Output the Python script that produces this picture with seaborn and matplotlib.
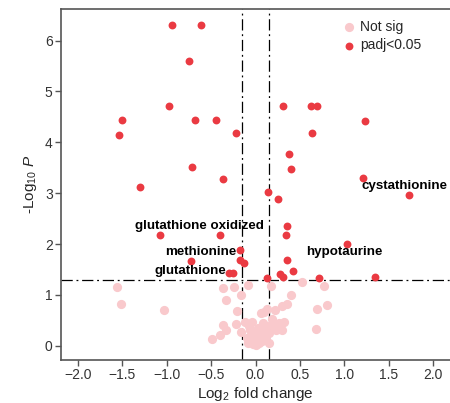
import numpy as np
import pandas as pd
import matplotlib
matplotlib.use("Agg")
import matplotlib.pyplot as plt
import seaborn as sns

# Significant metabolites (padj < 0.05): log2 fold change and -log10 P
sig_lfc = [-0.94, -0.61, -0.75, -0.97, -1.50, -1.54, -0.68, -0.45, -0.72, -1.30,
           -0.37, -0.22, 0.31, 0.63, 0.69, 1.23, 0.64, 0.38, 0.40, 1.21,
           0.14, 1.73, 0.25, 0.35, 0.34, 1.03, 0.36, 0.42, 0.28, 0.31,
           0.13, 0.72, 1.34, -0.18, -0.18, -0.135, -0.30, -0.25, -1.07, -0.40,
           -0.73]
sig_p = [6.31, 6.31, 5.60, 4.72, 4.43, 4.14, 4.43, 4.43, 3.51, 3.13,
         3.27, 4.19, 4.72, 4.72, 4.72, 4.42, 4.19, 3.77, 3.47, 3.30,
         3.02, 2.96, 2.88, 2.36, 2.17, 2.00, 1.68, 1.47, 1.42, 1.36,
         1.33, 1.33, 1.35, 1.88, 1.68, 1.63, 1.43, 1.43, 2.17, 2.17,
         1.67]

# Non-significant metabolites
ns_lfc = [-1.56, -1.51, -1.03, -0.49, -0.40, -0.37, -0.37, -0.33, -0.24, -0.08,
          -0.16, -0.21, 0.06, -0.33, -0.22, -0.12, -0.04, -0.16, -0.05, 0.01,
          0.045, -0.09, 0.52, 0.40, 0.36, 0.30, 0.22, 0.10, 0.19, 0.08,
          0.32, 0.27, 0.30, 0.23, 0.10, 0.69, 0.81, 0.68, 0.06, 0.04,
          0.77, 0.18, 0.13, -0.02, 0.02, 0.00, -0.06, 0.08, 0.12, -0.10,
          0.03, 0.15, 0.00, 0.07, -0.03, 0.12, -0.07, 0.15, 0.18]
ns_p = [1.16, 0.83, 0.70, 0.14, 0.22, 0.41, 1.14, 0.90, 1.16, 1.19,
        0.99, 0.68, 0.64, 0.31, 0.42, 0.47, 0.47, 0.27, 0.18, 0.08,
        0.21, 0.05, 1.25, 0.99, 0.83, 0.79, 0.71, 0.66, 0.53, 0.45,
        0.47, 0.44, 0.31, 0.31, 0.31, 0.73, 0.80, 0.33, 0.18, 0.05,
        1.18, 1.18, 0.73, 0.12, 0.15, 0.25, 0.30, 0.22, 0.12, 0.15,
        0.35, 0.25, 0.02, 0.10, 0.03, 0.38, 0.38, 0.05, 0.40]

# Labelled metabolites: name and label anchor (log2FC, -log10 P)
label_names = ["glutathione oxidized", "methionine", "glutathione",
               "cystathionine", "hypotaurine"]
label_x = [-0.635, -0.62, -0.73, 1.68, 0.995]
label_y = [2.36, 1.84, 1.47, 3.14, 1.84]

fc_cut = 0.15
p_cut = -np.log10(0.05)

sns.set_theme(style="white")
plt.rcParams["font.family"] = ["Liberation Sans", "DejaVu Sans"]
plt.rcParams["mathtext.fontset"] = "custom"
plt.rcParams["mathtext.rm"] = "Liberation Sans"
plt.rcParams["mathtext.it"] = "Liberation Sans:italic"

df = pd.concat([
    pd.DataFrame({"lfc": ns_lfc, "p": ns_p, "group": "Not sig"}),
    pd.DataFrame({"lfc": sig_lfc, "p": sig_p, "group": "padj<0.05"}),
], ignore_index=True)

fig = plt.figure(figsize=(4.5, 4.03), dpi=100)
ax = fig.add_axes([61 / 450, 43 / 403, 389 / 450, 351 / 403])

sns.scatterplot(data=df[df.group == "Not sig"], x="lfc", y="p", ax=ax,
                color="#F9C9CC", s=44, linewidth=0, label="Not sig", zorder=2)
sns.scatterplot(data=df[df.group == "padj<0.05"], x="lfc", y="p", ax=ax,
                color="#EA3A42", s=32, linewidth=0, label="padj<0.05", zorder=3)

dash = (0, (9, 3, 1.5, 3))
ax.axhline(p_cut, color="black", lw=0.9, ls=dash, zorder=1)
ax.axvline(-fc_cut, color="black", lw=0.9, ls=dash, zorder=1)
ax.axvline(fc_cut, color="black", lw=0.9, ls=dash, zorder=1)

for name, tx, ty in zip(label_names, label_x, label_y):
    ax.text(tx, ty, name, ha="center", va="center", fontsize=9.6,
            fontweight="bold", color="black", zorder=4)

ax.set_xlim(-2.19, 2.19)
ax.set_ylim(-0.28, 6.62)
ax.set_xticks(np.arange(-2.0, 2.01, 0.5))
ax.set_xticklabels([f"{v:.1f}".replace("-", "\u2212") for v in np.arange(-2.0, 2.01, 0.5)])
ax.set_yticks(range(0, 7))

ax.set_xlabel(r"Log$_2$ fold change", fontsize=11, labelpad=2)
ax.set_ylabel(r"-Log$_{10}$ $\it{P}$", fontsize=11, labelpad=4)

for side in ["left", "bottom", "top"]:
    ax.spines[side].set_color("#555555")
    ax.spines[side].set_linewidth(1.2)
ax.spines["right"].set_visible(False)
ax.tick_params(axis="both", which="both", direction="out", length=4,
               width=1, color="#555555", labelsize=10, labelcolor="#333333",
               bottom=True, left=True, pad=2)

leg = ax.legend(loc="upper left", bbox_to_anchor=(0.69, 1.0), frameon=False,
                fontsize=10, handletextpad=0.2, borderpad=0.3,
                labelspacing=0.3, handlelength=1.2)

fig.savefig("out.png", dpi=100)
